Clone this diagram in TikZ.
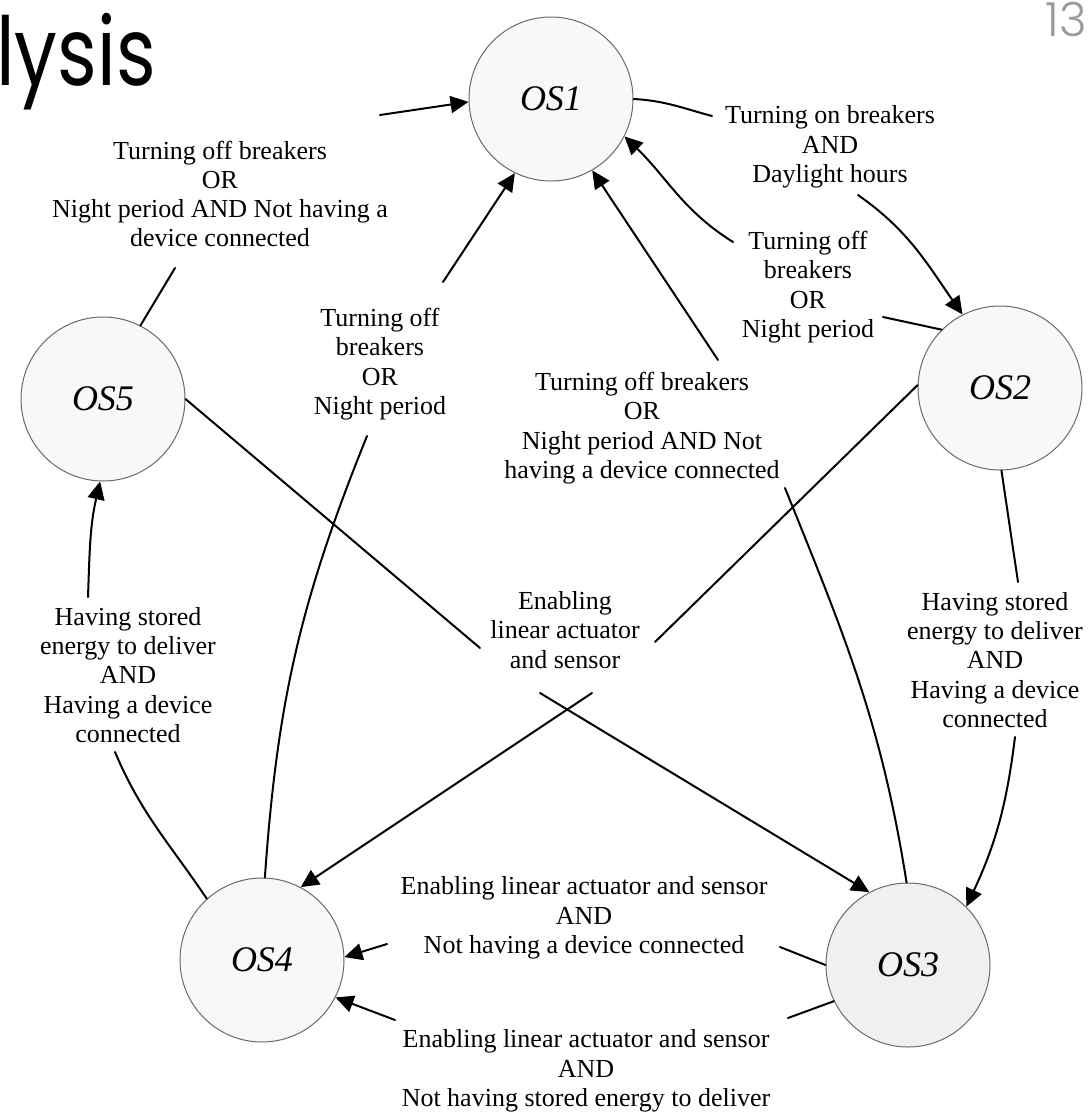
\documentclass[tikz,border=0pt]{standalone}
\usepackage{fontspec}
\setmainfont{Liberation Serif}
\newfontfamily\titlefont{Poppins}
\IfFontExistsTF{Poppins Light}{\newfontfamily\pagefont{Poppins Light}}{\newfontfamily\pagefont{Poppins}}
\usetikzlibrary{arrows.meta}
\definecolor{statefill}{HTML}{F8F8F8}
\definecolor{statefilldark}{HTML}{F0F0F0}
\definecolor{stateborder}{HTML}{6A6A6A}
\definecolor{pagenum}{HTML}{9A9A9A}
\begin{document}
\begin{tikzpicture}[x=1pt,y=1pt,
  state/.style={circle, draw=stateborder, line width=1pt, fill=statefill,
    minimum size=164pt, inner sep=0pt, font=\fontsize{36}{40}\selectfont\itshape},
  cond/.style={align=center, inner sep=0pt, font=\fontsize{26}{29.3}\selectfont},
  link/.style={line width=2pt, line cap=round},
  arc/.style={link, -{Triangle[length=18pt,width=17pt]}},
]
\useasboundingbox (0,0) rectangle (1089,-1114);

% slide fragments
\node[anchor=base west, inner sep=0pt, font=\titlefont\fontsize{95}{95}\selectfont] (title) at (-4,-85) {\scalebox{0.80}[1]{lysis}};
\node[anchor=base east, inner sep=0pt, text=pagenum, font=\pagefont\fontsize{47}{47}\selectfont] (pnum) at (1087,-36) {13};

% states
\node[state] (OS1) at (551,-99) {OS1};
\node[state] (OS2) at (1000,-388) {OS2};
\node[state, fill=statefilldark] (OS3) at (908,-965) {OS3};
\node[state] (OS4) at (262,-960) {OS4};
\node[state] (OS5) at (103,-399) {OS5};

% conditions
\node[cond] (L51) at (220,-194) {Turning off breakers\\OR\\Night period AND Not having a\\device connected};
\node[cond] (L12) at (830,-147) {Turning on breakers\\AND\\Daylight hours};
\node[cond] (L21) at (808,-287) {Turning off\\breakers\\OR\\Night period};
\node[cond] (L31) at (642,-428) {Turning off breakers\\OR\\Night period AND Not\\having a device connected};
\node[cond] (L41) at (380,-364) {Turning off\\breakers\\OR\\Night period};
\node[cond] (L23) at (995,-660) {Having stored\\energy to deliver\\AND\\Having a device\\connected};
\node[cond] (L45) at (128,-675) {Having stored\\energy to deliver\\AND\\Having a device\\connected};
\node[cond] (LC) at (565,-630) {Enabling\\linear actuator\\and sensor};
\node[cond] (L34a) at (584,-918) {Enabling linear actuator and sensor\\AND\\Not having a device connected};
\node[cond] (L34b) at (586,-1071) {Enabling linear actuator and sensor\\AND\\Not having stored energy to deliver};

% free ends of connectors, beside the condition texts
\coordinate (e5a) at (175,-268);
\coordinate (e5b) at (380,-115);
\coordinate (a1) at (712,-116);
\coordinate (a2) at (858,-195);
\coordinate (b1) at (883,-317);
\coordinate (b2) at (733,-242);
\coordinate (c1) at (785,-488);
\coordinate (c2) at (718,-360);
\coordinate (d1) at (367,-436);
\coordinate (d2) at (443,-282);
\coordinate (f1) at (1018,-582);
\coordinate (f2) at (1015,-737);
\coordinate (g1) at (115,-752);
\coordinate (g2) at (88,-597);
\coordinate (h1) at (480,-648);
\coordinate (h2) at (540,-693);
\coordinate (i1) at (655,-642);
\coordinate (i2) at (592,-693);
\coordinate (j1) at (780,-947);
\coordinate (j2) at (387,-944);
\coordinate (k1) at (788,-1018);
\coordinate (k2) at (395,-1020);

% OS5 -> OS1
\draw[link] (OS5.63) -- (e5a);
\draw[arc] (e5b) -- (OS1.182);
% OS1 -> OS2
\draw[link] (OS1.0) to[out=-3,in=165] (a1);
\draw[arc] (a2) to[out=-35,in=125] (OS2.117);
% OS2 -> OS1
\draw[link] (OS2.135) -- (b1);
\draw[arc] (b2) to[out=148,in=-44] (OS1.-27);
% OS3 -> OS1
\draw[link] (OS3.91) to[out=99,in=-68] (c1);
\draw[arc] (c2) -- (OS1.-60);
% OS4 -> OS1
\draw[link] (OS4.88) to[out=86,in=-112] (d1);
\draw[arc] (d2) -- (OS1.-116);
% OS2 -> OS3
\draw[link] (OS2.-89) -- (f1);
\draw[arc] (f2) to[out=-97,in=65] (OS3.45);
% OS4 -> OS5
\draw[link] (OS4.132) to[out=124,in=-67] (g1);
\draw[arc] (g2) to[out=88,in=-103] (OS5.-92);
% OS5 -> OS3
\draw[link] (OS5.0) -- (h1);
\draw[arc] (h2) -- (OS3.118);
% OS2 -> OS4
\draw[link] (OS2.178) -- (i1);
\draw[arc] (i2) -- (OS4.62);
% OS3 -> OS4 (upper)
\draw[link] (OS3.180) -- (j1);
\draw[arc] (j2) -- (OS4.2);
% OS3 -> OS4 (lower)
\draw[link] (OS3.206) -- (k1);
\draw[arc] (k2) -- (OS4.-27);
\end{tikzpicture}
\end{document}
